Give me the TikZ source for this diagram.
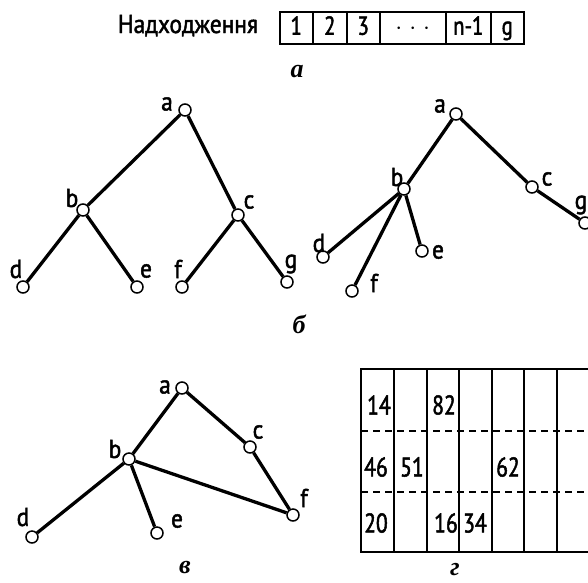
\documentclass[tikz,border=0pt]{standalone}
\usepackage{fontspec}
\setmainfont{PT Sans}
\newfontfamily\lblfont{PT Sans}[FakeBold=1.8,FakeStretch=0.9]
\newfontfamily\numfont{PT Sans}[FakeBold=1.8,FakeStretch=0.8]
\newfontfamily\capfont{Liberation Serif}
\begin{document}
\begin{tikzpicture}[x=1pt,y=-1pt,
  lbl/.style={inner sep=0pt,font=\lblfont\fontsize{26}{26}\selectfont},
  vtx/.style={circle,draw,fill=white,line width=1.5pt,minimum size=12pt,inner sep=0pt},
  edge/.style={line width=3.3pt},
  plabel/.style={inner sep=0pt,font=\capfont\bfseries\itshape\fontsize{26}{26}\selectfont},
  qbox/.style={draw,line width=1.5pt,minimum height=32pt,text height=23pt,text depth=9pt,inner sep=0pt,anchor=north west,font=\numfont\fontsize{26}{26}\selectfont},
  tgrid/.style={line width=1.8pt},
  dgrid/.style={line width=1.8pt,dash pattern=on 7pt off 5pt},
  num/.style={inner sep=0pt,anchor=west,font=\numfont\fontsize{27}{27}\selectfont}
]
\clip (0,0) rectangle (588,582);
% ---- panel a
\node[lbl,anchor=base] (title) at (188,33) {Надходження};
\node[qbox,minimum width=33pt] (q1) at (279,11) {1};
\node[qbox,minimum width=34pt] (q2) at (312,11) {2};
\node[qbox,minimum width=33pt] (q3) at (346,11) {3};
\node[qbox,minimum width=66pt] (q4) at (379,11) {$\cdot$\hspace{7pt}$\cdot$\hspace{7pt}$\cdot$};
\node[qbox,minimum width=45pt] (q5) at (445,11) {n-1};
\node[qbox,minimum width=33pt] (q6) at (490,11) {g};
\node[plabel] (capa) at (297,72) {а};
% ---- panel b left
\node[vtx] (la) at (185,110) {};
\node[vtx] (lb) at (83,210) {};
\node[vtx] (lc) at (238,215) {};
\node[vtx] (ld) at (23,287) {};
\node[vtx] (le) at (137,287) {};
\node[vtx] (lf) at (182,287) {};
\node[vtx] (lg) at (287,282) {};
\draw[edge] (la) -- (lb); \draw[edge] (la) -- (lc);
\draw[edge] (lb) -- (ld); \draw[edge] (lb) -- (le);
\draw[edge] (lc) -- (lf); \draw[edge] (lc) -- (lg);
\node[lbl] (tla) at (167,104) {a};
\node[lbl] (tlb) at (72,198) {b};
\node[lbl] (tlc) at (249,202) {c};
\node[lbl] (tld) at (16,269) {d};
\node[lbl] (tle) at (146,271) {e};
\node[lbl] (tlf) at (178,269) {f};
\node[lbl] (tlg) at (291,264) {g};
% ---- panel b right
\node[vtx] (ra) at (456,114) {};
\node[vtx] (rb) at (404,189) {};
\node[vtx] (rc) at (532,187) {};
\node[vtx] (rg) at (585,223) {};
\node[vtx] (rd) at (323,257) {};
\node[vtx] (re) at (422,251) {};
\node[vtx] (rf) at (352,291) {};
\draw[edge] (ra) -- (rb); \draw[edge] (ra) -- (rc);
\draw[edge] (rc) -- (rg);
\draw[edge] (rb) -- (rd); \draw[edge] (rb) -- (rf); \draw[edge] (rb) -- (re);
\node[lbl] (tra) at (440,106) {a};
\node[lbl] (trb) at (397,177) {b};
\node[lbl] (trc) at (547,179) {c};
\node[lbl] (trg) at (581,205) {g};
\node[lbl] (trd) at (319,243) {d};
\node[lbl] (tre) at (438,252) {e};
\node[lbl] (trf) at (374,283) {f};
\node[plabel] (capb) at (299,324) {б};
% ---- panel v
\node[vtx] (va) at (182,388) {};
\node[vtx] (vb) at (129,459) {};
\node[vtx] (vc) at (250,447) {};
\node[vtx] (vf) at (293,515) {};
\node[vtx] (vd) at (32,537) {};
\node[vtx] (ve) at (157,533) {};
\draw[edge] (va) -- (vb); \draw[edge] (va) -- (vc);
\draw[edge] (vc) -- (vf); \draw[edge] (vb) -- (vf);
\draw[edge] (vb) -- (vd); \draw[edge] (vb) -- (ve);
\node[lbl] (tva) at (165,387) {a};
\node[lbl] (tvb) at (115,449) {b};
\node[lbl] (tvc) at (258,432) {c};
\node[lbl] (tvf) at (304,498) {f};
\node[lbl] (tvd) at (23,517) {d};
\node[lbl] (tve) at (177,521) {e};
\node[plabel] (capv) at (185,567) {в};
% ---- panel g
\draw[tgrid] (600,369) -- (361,369) -- (361,552) -- (600,552);
\foreach \x in {394,427,459,492,524,557} \draw[tgrid] (\x,369) -- (\x,552);
\draw[dgrid] (361,431) -- (600,431);
\draw[dgrid] (361,492) -- (600,492);
\node[num] (n14) at (367,405) {14};
\node[num] (n82) at (432,405) {82};
\node[num] (n46) at (364,467) {46};
\node[num] (n51) at (400,467) {51};
\node[num] (n62) at (496,467) {62};
\node[num] (n20) at (364,523) {20};
\node[num] (n16) at (434,523) {16};
\node[num] (n34) at (463,523) {34};
\node[plabel] (capg) at (455,570) {г};
\end{tikzpicture}
\end{document}
